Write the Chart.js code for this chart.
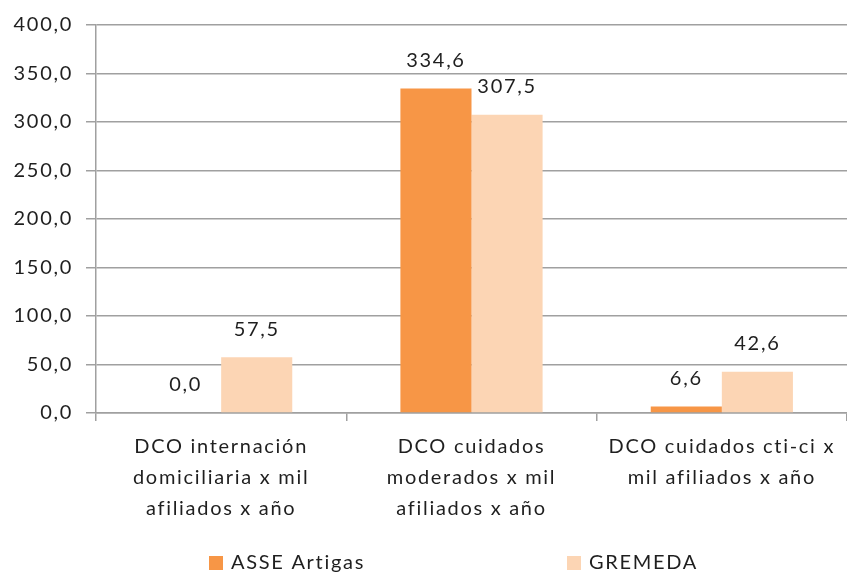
<!DOCTYPE html>
<html>
<head>
<meta charset="utf-8">
<script src="https://cdn.jsdelivr.net/npm/chart.js@4"></script>
<style>
  html, body { margin: 0; padding: 0; background: #fff; }
  #wrap { width: 847px; height: 573px; }
</style>
</head>
<body>
<div id="wrap"><canvas id="grafico"></canvas></div>
<script>
/* Datos */
var categorias = [
    ['DCO internación', 'domiciliaria x mil', 'afiliados x año'],
    ['DCO cuidados', 'moderados x mil', 'afiliados x año'],
    ['DCO cuidados cti-ci x', 'mil afiliados x año']
];
var asseArtigas = [0.0, 334.6, 6.6];
var gremeda = [57.5, 307.5, 42.6];
var nombresSeries = ['ASSE Artigas', 'GREMEDA'];

var fuente = "Lato, 'DejaVu Sans', sans-serif";
var colorTexto = '#1f1f1f';
var espaciado = '1.7px';

function formato(v) {
    return v.toFixed(1).replace('.', ',');
}

/* El texto del original es más ancho: un poco de espaciado entre letras */
var espaciadoLetras = {
    id: 'espaciadoLetras',
    beforeLayout: function (chart) { chart.ctx.letterSpacing = espaciado; },
    beforeDraw: function (chart) { chart.ctx.letterSpacing = espaciado; }
};

/* Etiquetas de valor encima de cada barra */
var etiquetasValor = {
    id: 'etiquetasValor',
    afterDatasetsDraw: function (chart) {
        var ctx = chart.ctx;
        ctx.save();
        ctx.font = '20px ' + fuente;
        ctx.fillStyle = colorTexto;
        ctx.textAlign = 'center';
        ctx.textBaseline = 'bottom';
        chart.data.datasets.forEach(function (ds, i) {
            chart.getDatasetMeta(i).data.forEach(function (el, j) {
                ctx.fillText(formato(ds.data[j]), el.x, el.y - 18);
            });
        });
        ctx.restore();
    }
};

/* Leyenda abajo, con las cajas separadas como en el original */
var leyendaAbajo = {
    id: 'leyendaAbajo',
    afterDraw: function (chart) {
        var ctx = chart.ctx;
        var xs = [209, 567];
        var y = 563;
        ctx.save();
        ctx.font = '20px ' + fuente;
        ctx.textBaseline = 'middle';
        chart.data.datasets.forEach(function (ds, i) {
            ctx.fillStyle = ds.backgroundColor;
            ctx.fillRect(xs[i], y - 7, 14, 14);
            ctx.fillStyle = colorTexto;
            ctx.fillText(ds.label, xs[i] + 22, y);
        });
        ctx.restore();
    }
};

var marco = document.getElementById('grafico').getContext('2d');

var grafico = new Chart(marco, {
    type: 'bar',
    data: {
        labels: categorias,
        datasets: [{
            label: nombresSeries[0],
            data: asseArtigas,
            backgroundColor: '#f79646'
        },
        {
            label: nombresSeries[1],
            data: gremeda,
            backgroundColor: '#fcd5b4'
        }]
    },
    options: {
        responsive: true,
        maintainAspectRatio: false,
        animation: false,
        layout: {
            padding: { top: 12, right: 0, bottom: 34, left: 0 }
        },
        datasets: {
            bar: {
                categoryPercentage: 0.568,
                barPercentage: 1.0
            }
        },
        plugins: {
            legend: { display: false },
            tooltip: { enabled: false }
        },
        scales: {
            y: {
                min: 0,
                max: 400,
                afterFit: function (eje) { eje.width = 96; },
                ticks: {
                    stepSize: 50,
                    padding: 13,
                    color: colorTexto,
                    font: { family: fuente, size: 20 },
                    callback: function (v) { return formato(v); }
                },
                grid: {
                    color: '#a0a0a0',
                    lineWidth: 1.5,
                    tickLength: 10
                },
                border: { color: '#a0a0a0', width: 1.5 }
            },
            x: {
                afterFit: function (eje) { eje.height = 126; },
                ticks: {
                    padding: 10,
                    maxRotation: 0,
                    color: colorTexto,
                    font: { family: fuente, size: 20, lineHeight: 1.55 }
                },
                grid: {
                    offset: true,
                    drawOnChartArea: false,
                    color: '#a0a0a0',
                    lineWidth: 1.5,
                    tickLength: 8
                },
                border: { color: '#a0a0a0', width: 1.5 }
            }
        }
    },
    plugins: [espaciadoLetras, etiquetasValor, leyendaAbajo]
});
</script>
</body>
</html>
